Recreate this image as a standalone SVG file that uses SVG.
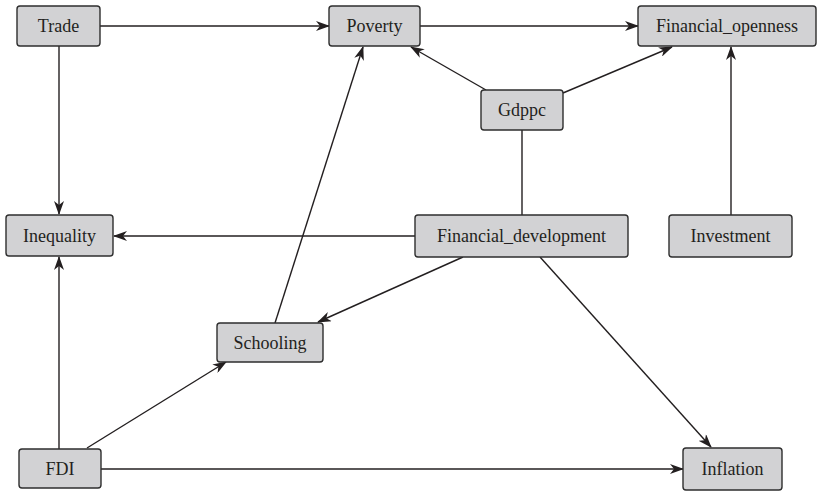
<svg xmlns="http://www.w3.org/2000/svg" width="820" height="491" viewBox="0 0 820 491">
  <defs>
    <style>
      .box { fill: #d2d2d4; stroke: #2e2e2e; stroke-width: 1.4; }
      .lbl { font-family: "Liberation Serif", "DejaVu Serif", serif; font-size: 18px; fill: #231f20; text-anchor: middle; dominant-baseline: central; }
      .edge { stroke: #231f20; stroke-width: 1.4; fill: none; }
      .arr { marker-end: url(#head); }
    </style>
    <marker id="head" viewBox="0 0 14 10" refX="13" refY="5" markerWidth="14" markerHeight="10" markerUnits="userSpaceOnUse" orient="auto">
      <path d="M0,0 L14,5 L0,10 L4,5 Z" fill="#231f20"/>
    </marker>
  </defs>
  <rect width="820" height="491" fill="#ffffff"/>

  <g id="connectors">
    <line class="edge arr" x1="100" y1="26" x2="329" y2="26"/>
    <line class="edge arr" x1="420" y1="26" x2="638" y2="26"/>
    <line class="edge arr" x1="486" y1="90" x2="411" y2="47"/>
    <line class="edge arr" x1="563" y1="93" x2="672" y2="47"/>
    <line class="edge" x1="522" y1="130" x2="522" y2="215"/>
    <line class="edge arr" x1="731" y1="215" x2="731" y2="47"/>
    <line class="edge arr" x1="59" y1="46" x2="59" y2="214"/>
    <line class="edge arr" x1="415" y1="236" x2="114" y2="236"/>
    <line class="edge arr" x1="59" y1="449" x2="59" y2="257"/>
    <line class="edge arr" x1="275" y1="323" x2="363" y2="47"/>
    <line class="edge arr" x1="463" y1="257" x2="318" y2="322"/>
    <line class="edge arr" x1="87" y1="448" x2="226" y2="362"/>
    <line class="edge arr" x1="540" y1="257" x2="711" y2="447"/>
    <line class="edge arr" x1="101" y1="469" x2="683" y2="469"/>
  </g>

  <g id="trade">
    <rect class="box" x="17" y="6" width="83" height="40" rx="3"/>
    <text class="lbl" x="58.5" y="26">Trade</text>
  </g>
  <g id="poverty">
    <rect class="box" x="329" y="6" width="91" height="40" rx="3"/>
    <text class="lbl" x="374.5" y="26">Poverty</text>
  </g>
  <g id="financial_openness">
    <rect class="box" x="638" y="6" width="178" height="40" rx="3"/>
    <text class="lbl" x="727" y="26">Financial_openness</text>
  </g>
  <g id="gdppc">
    <rect class="box" x="481" y="90" width="82" height="40" rx="3"/>
    <text class="lbl" x="522" y="110">Gdppc</text>
  </g>
  <g id="inequality">
    <rect class="box" x="6" y="215" width="107" height="41" rx="3"/>
    <text class="lbl" x="59.5" y="235.5">Inequality</text>
  </g>
  <g id="financial_development">
    <rect class="box" x="415" y="215" width="213" height="42" rx="3"/>
    <text class="lbl" x="521.5" y="236">Financial_development</text>
  </g>
  <g id="investment">
    <rect class="box" x="669" y="215" width="123" height="42" rx="3"/>
    <text class="lbl" x="730.5" y="236">Investment</text>
  </g>
  <g id="schooling">
    <rect class="box" x="217" y="323" width="106" height="39" rx="3"/>
    <text class="lbl" x="270" y="342.5">Schooling</text>
  </g>
  <g id="fdi">
    <rect class="box" x="19" y="449" width="82" height="39" rx="3"/>
    <text class="lbl" x="60" y="468.5">FDI</text>
  </g>
  <g id="inflation">
    <rect class="box" x="683" y="448" width="99" height="42" rx="3"/>
    <text class="lbl" x="732.5" y="469">Inflation</text>
  </g>
</svg>
